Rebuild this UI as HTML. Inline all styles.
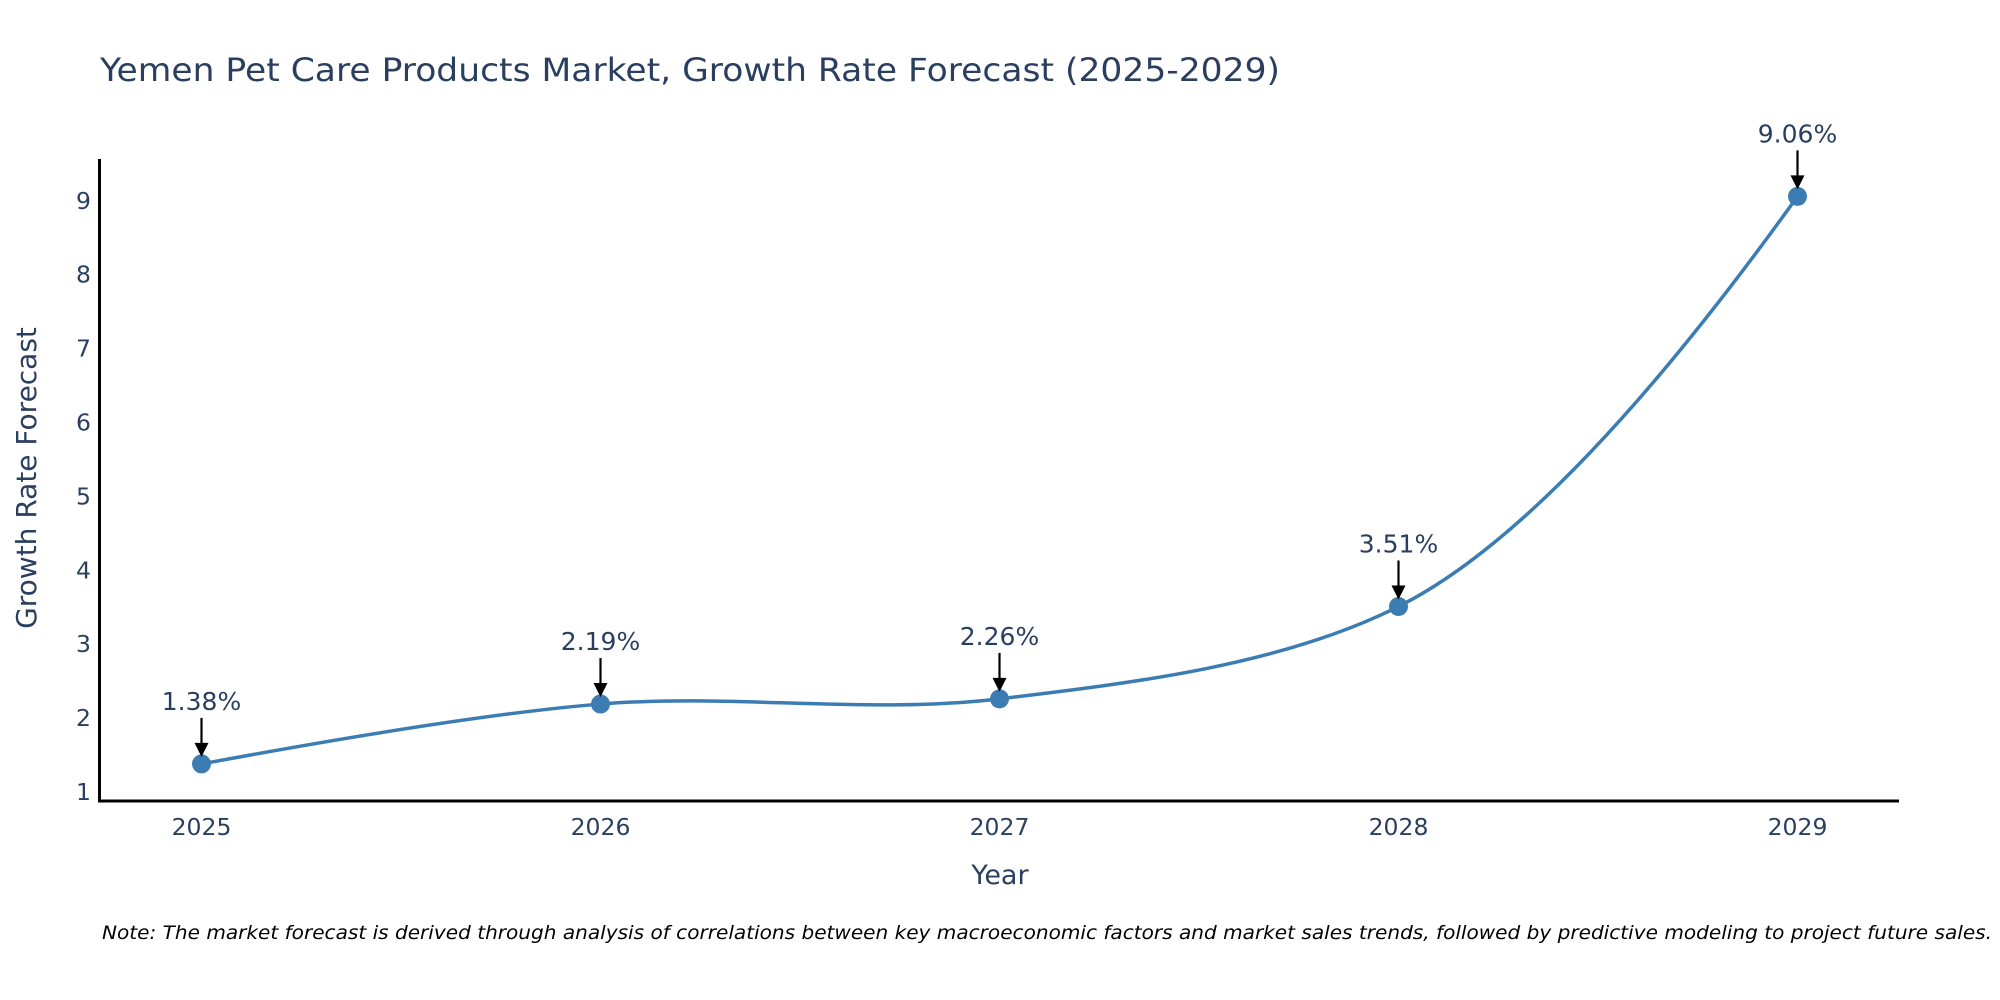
<!DOCTYPE html>
<html><head><meta charset="utf-8"><style>
body{margin:0;background:#fff;}
svg{display:block;font-family:"DejaVu Sans","Liberation Sans",sans-serif;}
</style></head><body>
<svg id="chart" width="2000" height="1000" viewBox="0 0 2000 1000">
<text x="100" y="81" font-size="32" fill="#2a3f5f" textLength="1180" lengthAdjust="spacingAndGlyphs">Yemen Pet Care Products Market, Growth Rate Forecast (2025-2029)</text>
<g id="yticks"></g>
<g id="xticks"></g>
<line x1="99.5" y1="159" x2="99.5" y2="802" stroke="#000" stroke-width="3"/>
<line x1="98" y1="801" x2="1899" y2="801" stroke="#000" stroke-width="3"/>
<path id="line" fill="none" stroke="#3b7db3" stroke-width="3.5"/>
<g id="marks"></g>
<text x="28" y="478" font-size="28" fill="#2a3f5f" text-anchor="middle" transform="rotate(-90 28 478)" dominant-baseline="middle">Growth Rate Forecast</text>
<text x="1000" y="884" font-size="27" fill="#2a3f5f" text-anchor="middle">Year</text>
<text x="102" y="939" font-size="19" font-style="italic" fill="#000" textLength="1890" lengthAdjust="spacingAndGlyphs">Note: The market forecast is derived through analysis of correlations between key macroeconomic factors and market sales trends, followed by predictive modeling to project future sales.</text>
</svg>
<script>
const years = ["2025","2026","2027","2028","2029"];
const values = [1.38, 2.19, 2.26, 3.51, 9.06];
const labels = ["1.38%","2.19%","2.26%","3.51%","9.06%"];
const yTicks = [1,2,3,4,5,6,7,8,9];
const NS="http://www.w3.org/2000/svg";
function xs(i){return 201.5+i*399;}
function ys(v){return 792-(v-1)*73.9;}
function mk(tag,attrs,parent){const e=document.createElementNS(NS,tag);for(const k in attrs)e.setAttribute(k,attrs[k]);parent.appendChild(e);return e;}
const yt=document.getElementById('yticks');
yTicks.forEach(t=>{const e=mk('text',{x:91,y:ys(t)+8,'font-size':23.5,fill:'#2a3f5f','text-anchor':'end'},yt);e.textContent=t;

});
const xt=document.getElementById('xticks');
years.forEach((y,i)=>{const e=mk('text',{x:xs(i),y:835,'font-size':23.5,fill:'#2a3f5f','text-anchor':'middle'},xt);e.textContent=y;

});
const P=values.map((v,i)=>[xs(i),ys(v)]);
function tangent(a,b,c,s){const d1x=a[0]-b[0],d1y=a[1]-b[1],d2x=c[0]-b[0],d2y=c[1]-b[1];
const d1a=Math.pow(d1x*d1x+d1y*d1y,s/2),d2a=Math.pow(d2x*d2x+d2y*d2y,s/2);
const nx=(d2a*d2a*d1x-d1a*d1a*d2x)*s,ny=(d2a*d2a*d1y-d1a*d1a*d2y)*s;
const den1=3*d2a*(d1a+d2a),den2=3*d1a*(d1a+d2a);
return [[b[0]+nx/den1,b[1]+ny/den1],[b[0]-nx/den2,b[1]-ny/den2]];}
const T=[];for(let i=1;i<P.length-1;i++)T.push(tangent(P[i-1],P[i],P[i+1],1));
let d='M'+P[0]+' Q'+T[0][0]+' '+P[1];
for(let i=2;i<P.length-1;i++)d+=' C'+T[i-2][1]+' '+T[i-1][0]+' '+P[i];
d+=' Q'+T[T.length-1][1]+' '+P[P.length-1];
document.getElementById('line').setAttribute('d',d);
const g=document.getElementById('marks');
P.forEach((p,i)=>{
const c=mk('circle',{cx:p[0],cy:p[1],r:9.5,fill:'#3b7db3'},g);


const l=mk('line',{x1:p[0],y1:p[1]-46,x2:p[0],y2:p[1]-20,stroke:'#000','stroke-width':2.2},g);


const h=mk('path',{d:`M${p[0]-7},${p[1]-21} L${p[0]+7},${p[1]-21} L${p[0]},${p[1]-7} Z`,fill:'#000'},g);


const t=mk('text',{x:p[0],y:p[1]-54,'font-size':25,fill:'#2a3f5f','text-anchor':'middle'},g);t.textContent=labels[i];


});
</script>
</body></html>
